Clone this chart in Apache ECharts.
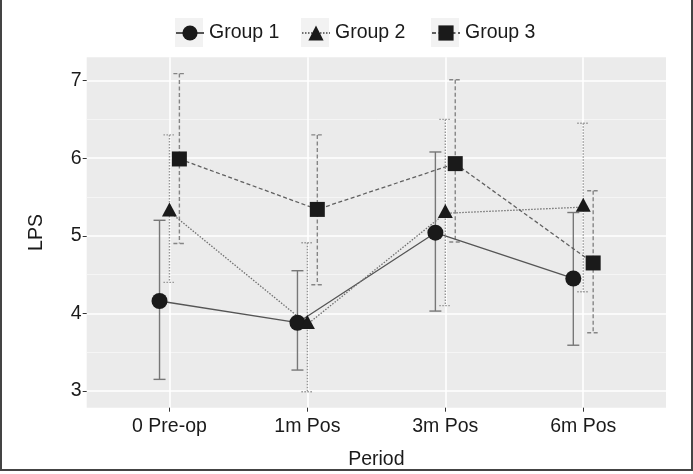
<!DOCTYPE html>
<html><head><meta charset="utf-8">
<script src="https://cdn.jsdelivr.net/npm/echarts@6/dist/echarts.min.js"></script>
<style>html,body{margin:0;padding:0;background:#fff}#c{width:693px;height:474px}</style>
</head><body><div id="c"></div>
<script>
var categories = ['0 Pre-op', '1m Pos', '3m Pos', '6m Pos'];
var groupNames = ['Group 1', 'Group 2', 'Group 3'];
var g1Mean = [4.16, 3.88, 5.04, 4.45];
var g1Lower = [3.15, 3.27, 4.03, 3.59];
var g1Upper = [5.20, 4.55, 6.08, 5.30];
var g2Mean = [5.31, 3.86, 5.29, 5.37];
var g2Lower = [4.40, 2.99, 4.10, 4.28];
var g2Upper = [6.30, 4.91, 6.50, 6.45];
var g3Mean = [5.99, 5.34, 5.93, 4.65];
var g3Lower = [4.90, 4.37, 4.92, 3.75];
var g3Upper = [7.09, 6.30, 7.01, 5.58];
var yMajor = [3, 4, 5, 6, 7];
var yMinor = [3.5, 4.5, 5.5, 6.5];

var dodge = [-0.072, 0, 0.072];
var means = [g1Mean, g2Mean, g3Mean];
var lowers = [g1Lower, g2Lower, g3Lower];
var uppers = [g1Upper, g2Upper, g3Upper];
var symbols = ['circle', 'triangle', 'rect'];
var symSizes = [16, [15, 14], 15];
var symOffsets = [[0, 0], [0, -2.3], [0, 0]];
var lineTypes = ['solid', [1.5, 1.5], [4, 2.5]];
var lineColors = ['#555555', '#707070', '#606060'];
var errColors = ['#777777', '#959595', '#858585'];
var FONT = 'Liberation Sans';
var FS = 19.5;

var series = [];
for (var g = 0; g < 3; g++) {
  (function (g) {
    var errData = [];
    var lineData = [];
    for (var i = 0; i < categories.length; i++) {
      errData.push([i + dodge[g], lowers[g][i], uppers[g][i]]);
      lineData.push([i + dodge[g], means[g][i]]);
    }
    series.push({
      type: 'custom',
      name: groupNames[g] + ' err',
      z: 2,
      silent: true,
      data: errData,
      renderItem: function (params, api) {
        var x = api.value(0);
        var lo = api.coord([x, api.value(1)]);
        var hi = api.coord([x, api.value(2)]);
        var w = 6;
        var st = { stroke: errColors[g], lineWidth: 1.4, lineDash: lineTypes[g] === 'solid' ? null : lineTypes[g] };
        return {
          type: 'group',
          children: [
            { type: 'line', shape: { x1: hi[0], y1: hi[1], x2: lo[0], y2: lo[1] }, style: st },
            { type: 'line', shape: { x1: hi[0] - w, y1: hi[1], x2: hi[0] + w, y2: hi[1] }, style: st },
            { type: 'line', shape: { x1: lo[0] - w, y1: lo[1], x2: lo[0] + w, y2: lo[1] }, style: st }
          ]
        };
      }
    });
    series.push({
      type: 'line',
      name: groupNames[g],
      z: 3,
      data: lineData,
      symbol: symbols[g],
      symbolSize: symSizes[g],
      symbolOffset: symOffsets[g],
      showSymbol: true,
      itemStyle: { color: '#1a1a1a', borderWidth: 0 },
      lineStyle: { color: lineColors[g], width: 1.3, type: lineTypes[g] },
      emphasis: { disabled: true },
      animation: false
    });
  })(g);
}

var legendLefts = [170, 296, 426];
var legends = [];
var keyRects = [];
for (var k = 0; k < 3; k++) {
  legends.push({
    data: [groupNames[k]],
    top: 18,
    left: legendLefts[k],
    padding: 5,
    itemWidth: 28,
    itemHeight: 19,
    textStyle: { fontSize: FS, color: '#1a1a1a', fontFamily: FONT }
  });
  keyRects.push({ type: 'rect', z: -1, silent: true, shape: { x: legendLefts[k] + 5, y: 18, width: 28, height: 29 }, style: { fill: '#f2f2f2' } });
}

var chart = echarts.init(document.getElementById('c'), null, { renderer: 'canvas' });
chart.setOption({
  animation: false,
  backgroundColor: '#ffffff',
  textStyle: { fontFamily: FONT },
  grid: { left: 86.7, right: 27, top: 57.3, bottom: 66.3, show: true, backgroundColor: '#ebebeb', borderWidth: 0, outerBoundsMode: 'none', containLabel: false },
  legend: legends,
  xAxis: {
    type: 'value',
    min: -0.6,
    max: 3.6,
    name: 'Period',
    nameLocation: 'middle',
    nameGap: 42,
    nameTextStyle: { fontSize: FS, color: '#1a1a1a', fontFamily: FONT },
    axisLine: { show: false, onZero: false },
    axisTick: { show: true, length: 4, lineStyle: { color: '#333' }, customValues: [0, 1, 2, 3] },
    axisLabel: {
      customValues: [0, 1, 2, 3],
      fontSize: FS, color: '#1a1a1a', margin: 9, fontFamily: FONT,
      formatter: function (v) { return categories[Math.round(v)]; }
    },
    splitLine: { show: true, lineStyle: { color: '#ffffff', width: 1.6 } }
  },
  yAxis: [{
    type: 'value',
    min: 2.785,
    max: 7.30,
    name: 'LPS',
    nameLocation: 'middle',
    nameGap: 40,
    nameRotate: 90,
    nameTextStyle: { fontSize: FS, color: '#1a1a1a', fontFamily: FONT },
    axisLine: { show: false, onZero: false },
    axisTick: { show: true, length: 4, lineStyle: { color: '#333' }, customValues: yMajor },
    axisLabel: { customValues: yMajor, fontSize: FS, color: '#1a1a1a', margin: 5, fontFamily: FONT },
    splitLine: { show: true, lineStyle: { color: '#ffffff', width: 1.6 } }
  }, {
    type: 'value',
    min: 2.785,
    max: 7.30,
    position: 'left',
    axisLine: { show: false, onZero: false },
    axisTick: { show: false, customValues: yMinor },
    axisLabel: { show: false, customValues: yMinor },
    splitLine: { show: true, lineStyle: { color: '#f5f5f5', width: 1 } }
  }],
  graphic: [
    { type: 'rect', shape: { x: 1, y: -5, width: 691, height: 475 }, style: { fill: null, stroke: '#444', lineWidth: 2 }, silent: true }
  ].concat(keyRects),
  series: series
});
</script></body></html>
